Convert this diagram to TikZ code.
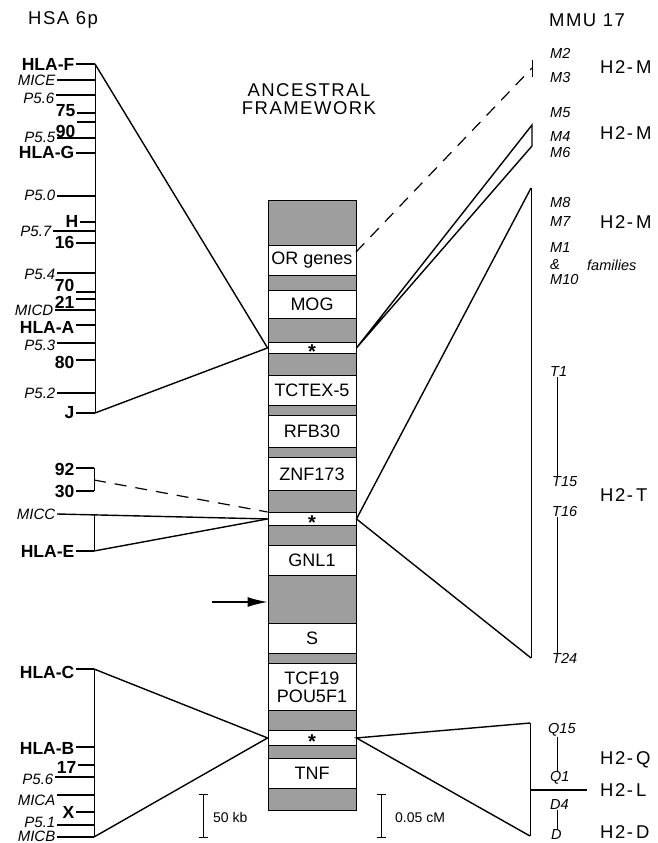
\documentclass[tikz,border=0pt]{standalone}
\usepackage{fontspec}
\setmainfont{Liberation Sans}
\newfontfamily\hdrfont[LetterSpace=8]{Liberation Sans}
\usetikzlibrary{arrows.meta}
\newcommand\leftlab[7]{%
  \node[#2,anchor=east] (#1) at ({#5-1.5},#3) {#6};
  \coordinate (#1a) at (#5,#4);
  \coordinate (#1b) at (#7,#4);
  \draw[tickline] (#1a) -- (#1b);}
\begin{document}
\begin{tikzpicture}[x=1pt,y=-1pt,
  bl/.style={font=\fontsize{17.5}{18}\selectfont\bfseries,inner sep=0pt},
  il/.style={font=\fontsize{15}{15}\selectfont\itshape,inner sep=0pt},
  rl/.style={font=\fontsize{14.5}{15}\selectfont\itshape,inner sep=0pt,anchor=west},
  hl/.style={font=\hdrfont\fontsize{18.5}{19}\selectfont,inner sep=0pt,anchor=west},
  hdrs/.style={font=\hdrfont\fontsize{18.5}{17.5}\selectfont,inner sep=0pt},
  gseg/.style={draw,line width=0.9pt,fill=black!38,minimum width=88pt,inner sep=0pt,anchor=north},
  wseg/.style={draw,line width=0.9pt,fill=white,minimum width=88pt,inner sep=0pt,anchor=north,
     font=\fontsize{18}{19}\selectfont,align=center},
  ast/.style={font=\fontsize{20}{20}\selectfont\bfseries,inner sep=0pt},
  conn/.style={line width=1.4pt},
  tickline/.style={line width=1.1pt},
  thinl/.style={line width=0.9pt},
  dsh/.style={line width=1.2pt,dash pattern=on 12pt off 9pt}]
\useasboundingbox (0,0) rectangle (658,843);

% headers
\node[hdrs,anchor=west] (hsa) at (28,20) {HSA 6p};
\node[hdrs,anchor=west] (mmu) at (549,20) {MMU 17};
\node[hdrs,align=center] (anc) at (309,99) {ANCESTRAL\\FRAMEWORK};

% ---------------- left group 1 ----------------
\coordinate (sp1top) at (95,64);
\coordinate (sp1bot) at (95,413);
\draw[thinl] (sp1top) -- (sp1bot);
\leftlab{hlaf}{bl}{64}{64}{76}{HLA-F}{95}
\leftlab{mice}{il}{80}{80}{57}{MICE}{95}
\leftlab{pa}{il}{98}{95}{56}{P5.6}{95}
\leftlab{n75}{bl}{111}{113}{77}{75}{95}
\leftlab{n90}{bl}{131}{122}{77}{90}{95}
\leftlab{pb}{il}{137}{138}{57}{P5.5}{95}
\leftlab{hlag}{bl}{152}{153}{76}{HLA-G}{95}
\leftlab{pc}{il}{195}{196}{57}{P5.0}{95}
\leftlab{hh}{bl}{221}{222}{80}{H}{95}
\leftlab{pd}{il}{231}{231}{53}{P5.7}{95}
\leftlab{n16}{bl}{242}{243}{76}{16}{95}
\leftlab{pe}{il}{274}{273}{57}{P5.4}{95}
\leftlab{n70}{bl}{285}{292}{76}{70}{95}
\leftlab{n21}{bl}{302}{299}{76}{21}{95}
\leftlab{micd}{il}{310}{310}{55}{MICD}{95}
\leftlab{hlaa}{bl}{327}{325}{76}{HLA-A}{95}
\leftlab{pf}{il}{345}{343}{57}{P5.3}{95}
\leftlab{n80}{bl}{362}{360}{76}{80}{95}
\leftlab{pg}{il}{393}{393}{57}{P5.2}{95}
\leftlab{jj}{bl}{413}{413}{76}{J}{95}

% ---------------- left group 2 ----------------
\leftlab{n92}{bl}{469}{468}{76}{92}{94}
\leftlab{n30}{bl}{491}{491}{76}{30}{94}
\draw[thinl] (n92b) -- (n30b);
\coordinate (brmid) at (94,480);
\node[il,anchor=east] (micc) at (55.5,514) {MICC};
\coordinate (micca) at (57,514);
\coordinate (sp2top) at (94,514.5);
\leftlab{hlae}{bl}{551}{551}{76}{HLA-E}{94}
\draw[thinl] (sp2top) -- (hlaeb);

% ---------------- left group 3 ----------------
\leftlab{hlac}{bl}{672}{669}{76}{HLA-C}{94}
\leftlab{hlab}{bl}{748}{747}{76}{HLA-B}{94}
\leftlab{n17}{bl}{767}{765}{78}{17}{94}
\leftlab{ph}{il}{779}{777}{55}{P5.6}{94}
\leftlab{mica}{il}{800}{795}{57}{MICA}{94}
\leftlab{xx}{bl}{812}{812}{76}{X}{94}
\leftlab{pi}{il}{822}{825}{57}{P5.1}{94}
\leftlab{micb}{il}{836}{837}{57}{MICB}{94}
\draw[thinl] (hlacb) -- (micbb);

% ---------------- column ----------------
\node[gseg,minimum height=45pt] (g1) at (312,200) {};
\node[wseg,minimum height=30pt] (org) at (312,245) {OR genes};
\node[gseg,minimum height=15pt] (g2) at (312,275) {};
\node[wseg,minimum height=28pt] (mog) at (312,290) {MOG};
\node[gseg,minimum height=24pt] (g3) at (312,318) {};
\node[wseg,minimum height=11pt] (st1) at (312,342) {};
\node[gseg,minimum height=22pt] (g4) at (312,353) {};
\node[wseg,minimum height=30pt] (tct) at (312,375) {TCTEX-5};
\node[gseg,minimum height=10pt] (g5) at (312,405) {};
\node[wseg,minimum height=32pt] (rfb) at (312,415) {RFB30};
\node[gseg,minimum height=10pt] (g6) at (312,447) {};
\node[wseg,minimum height=33pt] (znf) at (312,457) {ZNF173};
\node[gseg,minimum height=22pt] (g7) at (312,490) {};
\node[wseg,minimum height=13pt] (st2) at (312,512) {};
\node[gseg,minimum height=20pt] (g8) at (312,525) {};
\node[wseg,minimum height=30pt] (gnl) at (312,545) {GNL1};
\node[gseg,minimum height=48pt] (g9) at (312,575) {};
\node[wseg,minimum height=30pt] (ss) at (312,623) {S};
\node[gseg,minimum height=10pt] (g10) at (312,653) {};
\node[wseg,minimum height=47pt] (tcf) at (312,663) {TCF19\\[-1pt]POU5F1};
\node[gseg,minimum height=20pt] (g11) at (312,710) {};
\node[wseg,minimum height=15pt] (st3) at (312,730) {};
\node[gseg,minimum height=13pt] (g12) at (312,745) {};
\node[wseg,minimum height=30pt] (tnf) at (312,758) {TNF};
\node[gseg,minimum height=22pt] (g13) at (312,788) {};
\node[ast] (a1) at ([yshift=-4pt]st1.center) {*};
\node[ast] (a2) at ([yshift=-4pt]st2.center) {*};
\node[ast] (a3) at ([yshift=-4pt]st3.center) {*};

% ---------------- connectors left ----------------
\draw[conn] (sp1top) -- (st1.west);
\draw[conn] (sp1bot) -- (st1.west);
\draw[dsh] (brmid) -- (st2.north west);
\draw[conn] (micca) -- (st2.west);
\draw[conn] (hlaeb) -- (st2.west);
\draw[conn] (hlacb) -- (st3.west);
\draw[conn] (micbb) -- (st3.west);

% ---------------- right side ----------------
\coordinate (dstart) at (356,252);
\coordinate (m23) at (532,68);
\coordinate (m23t) at (532,60);
\coordinate (m23b) at (532,77);
\draw[dsh] (dstart) -- (m23);
\draw[thinl] (m23t) -- (m23b);

\coordinate (p2a) at (532,125);
\coordinate (p2b) at (532,146);
\draw[conn,line join=miter] (st1.east) -- (p2a) -- (p2b) -- cycle;

\coordinate (tra) at (531,188);
\coordinate (trb) at (531,658);
\draw[conn] (tra) -- (st2.east) -- (trb);
\draw[thinl] (tra) -- (trb);

\coordinate (qa) at (530,723);
\coordinate (qb) at (530,836);
\draw[conn] (qa) -- (st3.east) -- (qb);
\draw[thinl] (qa) -- (qb);

% mouse labels
\node[rl] (m2) at (550,53) {M2};
\node[rl] (m3) at (550,78) {M3};
\node[hl] (h2m1) at (600,67) {H2-\,M};
\node[rl] (m5) at (550,113) {M5};
\node[rl] (m4) at (550,137) {M4};
\node[rl] (m6) at (550,153) {M6};
\node[hl] (h2m2) at (600,133) {H2-\,M};
\node[rl] (m8) at (550,203) {M8};
\node[rl] (m7) at (550,222) {M7};
\node[rl] (m1) at (550,248) {M1};
\node[rl] (amp) at (550,265) {\&};
\node[rl] (m10) at (550,280) {M10};
\node[rl] (fam) at (587,265) {families};
\node[hl] (h2m3) at (600,222) {H2-\,M};

\node[rl] (t1) at (550,372) {T1};
\node[rl] (t15) at (552,482) {T15};
\node[rl] (t16) at (552,512) {T16};
\node[rl] (t24) at (552,658) {T24};
\node[hl] (h2t) at (600,495) {H2-\,T};
\draw[thinl] (t1.south -| 557,0) -- (t15.north -| 557,0);
\draw[thinl] (t16.south -| 557,0) -- (t24.north -| 557,0);

\node[rl] (q15) at (548,730) {Q15};
\node[rl] (q1) at (550,778) {Q1};
\node[rl] (d4) at (550,805) {D4};
\node[rl] (dd) at (551,835) {D};
\draw[thinl] (q15.south -| 557,0) -- (q1.north -| 557,0);
\draw[thinl] (d4.south -| 557,0) -- (dd.north -| 557,0);
\coordinate (la) at (530,790);
\coordinate (lb) at (587,790);
\draw[tickline] (la) -- (lb);
\node[hl] (h2q) at (600,760) {H2-\,Q};
\node[hl] (h2l) at (600,790) {H2-\,L};
\node[hl] (h2d) at (600,832) {H2-\,D};

% scale bars and arrow
\coordinate (sa1) at (203,794);
\coordinate (sa2) at (203,837);
\draw[thinl] (sa1) -- (sa2);
\draw[thinl] ([xshift=-4.5pt]sa1) -- ([xshift=4.5pt]sa1);
\draw[thinl] ([xshift=-4.5pt]sa2) -- ([xshift=4.5pt]sa2);
\node[font=\fontsize{14}{14}\selectfont,inner sep=0pt,anchor=west] (kb) at (213,817) {50 kb};
\coordinate (sb1) at (381,794);
\coordinate (sb2) at (381,837);
\draw[thinl] (sb1) -- (sb2);
\draw[thinl] ([xshift=-4.5pt]sb1) -- ([xshift=4.5pt]sb1);
\draw[thinl] ([xshift=-4.5pt]sb2) -- ([xshift=4.5pt]sb2);
\node[font=\fontsize{14}{14}\selectfont,inner sep=0pt,anchor=west] (cm) at (395,818) {0.05 cM};
\coordinate (arra) at (212,602);
\draw[line width=1.3pt,-{Latex[length=20pt,width=10pt]}] (arra) -- (arra -| g9.west);
\end{tikzpicture}
\end{document}
